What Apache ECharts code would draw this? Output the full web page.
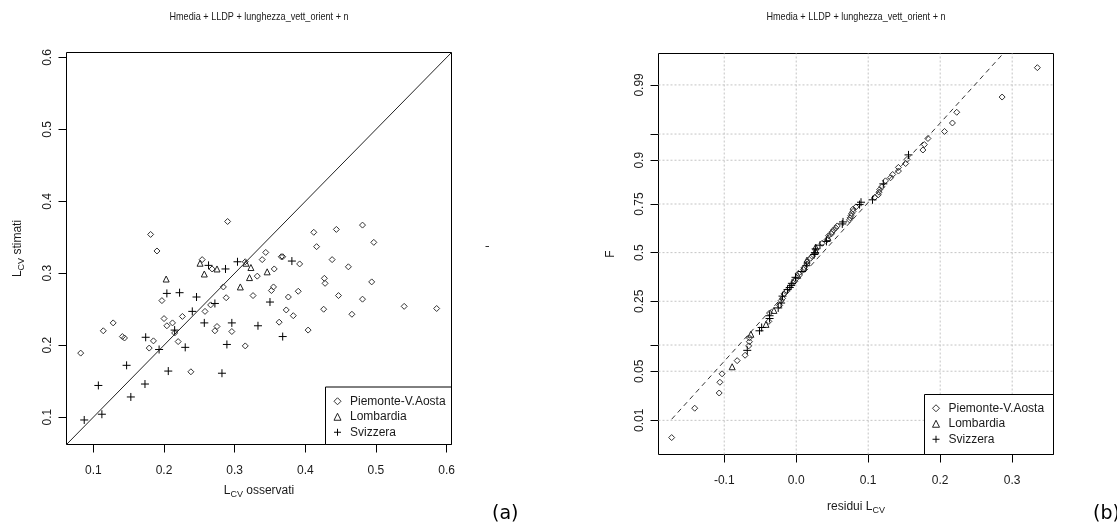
<!DOCTYPE html>
<html>
<head>
<meta charset="utf-8">
<script src="https://cdn.jsdelivr.net/npm/echarts@6/dist/echarts.min.js"></script>
<style>
  html, body { margin: 0; padding: 0; background: #fff; }
  #chart { width: 1117px; height: 527px; }
</style>
</head>
<body>
<div id="chart"></div>
<script>
// ---- data: observed and estimated L-CV per station, by region ----
const regionNames = ['Piemonte-V.Aosta', 'Lombardia', 'Svizzera'];

const piemonteObs = [0.290, 0.181, 0.190, 0.254, 0.268, 0.315, 0.332, 0.284, 0.288, 0.326,
  0.197, 0.266, 0.258, 0.226, 0.200, 0.128, 0.212, 0.204, 0.275, 0.215,
  0.114, 0.272, 0.296, 0.141, 0.144, 0.185, 0.179, 0.220, 0.315, 0.082,
  0.238, 0.412, 0.444, 0.481, 0.497, 0.416, 0.344, 0.339, 0.366, 0.368,
  0.438, 0.392, 0.461, 0.356, 0.427, 0.428, 0.494, 0.355, 0.352, 0.390,
  0.376, 0.447, 0.481, 0.373, 0.383, 0.426, 0.466, 0.540, 0.586, 0.363, 0.404];
const piemonteEst = [0.372, 0.354, 0.331, 0.319, 0.306, 0.316, 0.296, 0.281, 0.266, 0.269,
  0.262, 0.256, 0.247, 0.240, 0.237, 0.231, 0.231, 0.227, 0.226, 0.217,
  0.220, 0.220, 0.219, 0.212, 0.210, 0.206, 0.196, 0.205, 0.199, 0.189,
  0.163, 0.357, 0.361, 0.367, 0.343, 0.337, 0.329, 0.319, 0.323, 0.323,
  0.319, 0.313, 0.309, 0.306, 0.293, 0.286, 0.288, 0.281, 0.276, 0.275,
  0.267, 0.269, 0.264, 0.249, 0.241, 0.250, 0.243, 0.254, 0.251, 0.232, 0.221];

const lombardiaObs = [0.251, 0.275, 0.316, 0.323, 0.257, 0.203, 0.321, 0.308, 0.346];
const lombardiaEst = [0.314, 0.306, 0.314, 0.308, 0.299, 0.292, 0.294, 0.281, 0.302];

const svizzeraObs = [0.263, 0.287, 0.304, 0.381, 0.204, 0.222, 0.246, 0.272, 0.240, 0.257,
  0.296, 0.333, 0.215, 0.174, 0.193, 0.230, 0.289, 0.147, 0.206, 0.282,
  0.107, 0.173, 0.153, 0.112, 0.087, 0.350, 0.368];
const svizzeraEst = [0.311, 0.306, 0.316, 0.317, 0.272, 0.273, 0.267, 0.258, 0.247, 0.231,
  0.231, 0.227, 0.221, 0.211, 0.194, 0.197, 0.201, 0.172, 0.164, 0.161,
  0.144, 0.146, 0.128, 0.104, 0.096, 0.260, 0.212];

// ---- axis ticks ----
const scatterTicks = [0.1, 0.2, 0.3, 0.4, 0.5, 0.6];
const residTicks = [-0.1, 0.0, 0.1, 0.2, 0.3];
const residTickLabels = ['-0.1', '0.0', '0.1', '0.2', '0.3'];
const probTicks = [0.01, 0.05, 0.1, 0.25, 0.5, 0.75, 0.9, 0.95, 0.99];
const probTickLabels = ['0.01', '0.05', '', '0.25', '0.5', '0.75', '0.9', '', '0.99'];

// fitted normal drawn as the dashed reference line on the probability plot
const normalFit = { mean: 0.0368, sd: 0.0908 };

// ---- helpers ----
// inverse standard normal CDF (Acklam's rational approximation)
function qnorm(p) {
  const a = [-3.969683028665376e+01, 2.209460984245205e+02, -2.759285104469687e+02,
    1.383577518672690e+02, -3.066479806614716e+01, 2.506628277459239e+00];
  const b = [-5.447609879822406e+01, 1.615858368580409e+02, -1.556989798598866e+02,
    6.680131188771972e+01, -1.328068155288572e+01];
  const c = [-7.784894002430293e-03, -3.223964580411365e-01, -2.400758277161838e+00,
    -2.549732539343734e+00, 4.374664141464968e+00, 2.938163982698783e+00];
  const d = [7.784695709041462e-03, 3.224671290700398e-01, 2.445134137142996e+00,
    3.754408661907416e+00];
  const pl = 0.02425, ph = 1 - pl;
  if (p < pl) {
    const q = Math.sqrt(-2 * Math.log(p));
    return (((((c[0]*q+c[1])*q+c[2])*q+c[3])*q+c[4])*q+c[5]) / ((((d[0]*q+d[1])*q+d[2])*q+d[3])*q+1);
  }
  if (p <= ph) {
    const q = p - 0.5, r = q * q;
    return (((((a[0]*r+a[1])*r+a[2])*r+a[3])*r+a[4])*r+a[5])*q / (((((b[0]*r+b[1])*r+b[2])*r+b[3])*r+b[4])*r+1);
  }
  const q = Math.sqrt(-2 * Math.log(1 - p));
  return -(((((c[0]*q+c[1])*q+c[2])*q+c[3])*q+c[4])*q+c[5]) / ((((d[0]*q+d[1])*q+d[2])*q+d[3])*q+1);
}
const zip = (xs, ys) => xs.map((x, i) => [x, ys[i]]);

const obsByRegion = [piemonteObs, lombardiaObs, svizzeraObs];
const estByRegion = [piemonteEst, lombardiaEst, svizzeraEst];

// residuals (observed - estimated), ranked over all stations for the normal plot
const allResid = [];
obsByRegion.forEach((obs, r) => obs.forEach((o, i) => allResid.push({ r, v: o - estByRegion[r][i] })));
allResid.sort((p, q) => p.v - q.v);
const nRes = allResid.length;
const probData = [[], [], []];
allResid.forEach((e, i) => probData[e.r].push([e.v, qnorm((i + 0.5) / nRes)]));

const residMin = allResid[0].v, residMax = allResid[nRes - 1].v;
const fitLine = [residMin, residMax].map(x => [x, (x - normalFit.mean) / normalFit.sd]);

const probZ = probTicks.map(qnorm);
const probLabelZ = probZ.filter((z, i) => probTickLabels[i] !== '');

// ---- styling ----
const FONT = 'Liberation Sans, Arial, sans-serif';
const TXT = '#1a1a1a';
const symbols = ['diamond', 'triangle', 'path://M0,5L10,5M5,0L5,10'];
const symbolSizes = [6, 6, 8];
const symbolColors = ['#333', '#222', '#000'];

const lim = [0.0619, 0.607];
const residLim = [-0.1913, 0.3574];
const zLim = [-2.80, 2.762];

const richName = {
  m: { fontSize: 12, fontFamily: FONT, color: TXT, verticalAlign: 'top', lineHeight: 13 },
  s: { fontSize: 9, fontFamily: FONT, color: TXT, verticalAlign: 'top', lineHeight: 9, padding: [6, 0, 0, 0] }
};
const tickLabel = { fontSize: 12, fontFamily: FONT, color: TXT };

function valueAxis(gi, min, max, ticks, extra) {
  return Object.assign({
    type: 'value', gridIndex: gi, min, max,
    axisLine: { show: false, onZero: false },
    axisTick: { show: true, customValues: ticks, length: 8, lineStyle: { color: '#000', width: 1 } },
    axisLabel: Object.assign({ customValues: ticks }, tickLabel),
    splitLine: { show: false },
    nameLocation: 'middle',
    nameTextStyle: { rich: richName }
  }, extra);
}

const series = [];
regionNames.forEach((name, r) => {
  series.push({
    name, type: 'scatter', xAxisIndex: 0, yAxisIndex: 0,
    symbol: symbols[r], symbolSize: symbolSizes[r], symbolKeepAspect: true, z: 5,
    itemStyle: { color: 'none', borderColor: symbolColors[r], borderWidth: 1, opacity: 1 },
    emphasis: { disabled: true },
    data: zip(obsByRegion[r], estByRegion[r])
  });
});
series.push({
  type: 'line', xAxisIndex: 0, yAxisIndex: 0, symbol: 'none', silent: true, z: 4, clip: true,
  lineStyle: { color: '#222', width: 1 },
  data: [[lim[0], lim[0]], [lim[1], lim[1]]]
});
// dotted reference grid of the probability plot
const gridSegs = probZ.map(z => [[residLim[0], z], [residLim[1], z]])
  .concat(residTicks.map(x => [[x, zLim[0]], [x, zLim[1]]]));
gridSegs.forEach(seg => {
  series.push({
    type: 'line', xAxisIndex: 1, yAxisIndex: 1, symbol: 'none', silent: true, z: 1,
    lineStyle: { color: '#c4c4c4', width: 1, type: [2, 2] },
    data: seg
  });
});
series.push({
  type: 'line', xAxisIndex: 1, yAxisIndex: 1, symbol: 'none', silent: true, z: 4, clip: true,
  lineStyle: { color: '#333', width: 1, type: [5, 4] },
  data: fitLine
});
regionNames.forEach((name, r) => {
  series.push({
    name, type: 'scatter', xAxisIndex: 1, yAxisIndex: 1,
    symbol: symbols[r], symbolSize: symbolSizes[r], symbolKeepAspect: true, z: 5,
    itemStyle: { color: 'none', borderColor: symbolColors[r], borderWidth: 1, opacity: 1 },
    emphasis: { disabled: true },
    data: probData[r]
  });
});

const legendBase = {
  data: regionNames, orient: 'vertical', selectedMode: false, z: 30,
  itemWidth: 7, itemHeight: 7, itemGap: 0, padding: 0, symbolKeepAspect: true,
  itemStyle: { borderWidth: 1 },
  textStyle: { fontSize: 12, fontFamily: FONT, color: TXT, lineHeight: 15.5, padding: [0, 0, 0, 4] }
};

// panel headings: a narrow face, drawn as condensed text
const titleText = 'Hmedia + LLDP + lunghezza_vett_orient + n';
const titleCenters = [259, 856];

const option = {
  animation: false,
  backgroundColor: '#fff',
  grid: [
    { left: 66.5, top: 52.5, width: 385, height: 392, show: true, borderColor: '#000', borderWidth: 1, backgroundColor: 'transparent' },
    { left: 658.5, top: 53.5, width: 395, height: 401, show: true, borderColor: '#000', borderWidth: 1, backgroundColor: 'transparent' }
  ],
  xAxis: [
    valueAxis(0, lim[0], lim[1], scatterTicks, {
      name: '{m|L}{s|CV}{m| osservati}', nameGap: 40,
      axisLabel: Object.assign({ customValues: scatterTicks, margin: 20, formatter: v => v.toFixed(1) }, tickLabel)
    }),
    valueAxis(1, residLim[0], residLim[1], residTicks, {
      name: '{m|residui L}{s|CV}', nameGap: 46,
      axisLabel: Object.assign({ customValues: residTicks, margin: 20,
        formatter: v => residTickLabels[residTicks.findIndex(t => Math.abs(t - v) < 1e-9)] }, tickLabel)
    })
  ],
  yAxis: [
    valueAxis(0, lim[0], lim[1], scatterTicks, {
      name: '{m|L}{s|CV}{m| stimati}', nameGap: 42,
      axisLabel: Object.assign({ customValues: scatterTicks, rotate: 90, margin: 13, formatter: v => v.toFixed(1) }, tickLabel)
    }),
    valueAxis(1, zLim[0], zLim[1], probZ, {
      name: '{m|F}', nameGap: 41,
      axisLabel: Object.assign({ customValues: probLabelZ, rotate: 90, margin: 13,
        formatter: v => probTickLabels[probZ.findIndex(z => Math.abs(z - v) < 1e-9)] }, tickLabel)
    })
  ],
  legend: [
    Object.assign({}, legendBase, { left: 331.5, top: 393.5 }),
    Object.assign({}, legendBase, { left: 930, top: 400.5 })
  ],
  graphic: titleCenters.map(cx => ({
    type: 'text', z: 20, x: cx, y: 17, scaleX: 0.79,
    style: { text: titleText, fontSize: 11.5, fontFamily: FONT, fill: TXT,
      align: 'center', verticalAlign: 'middle' }
  })).concat([
    { type: 'rect', z: 20, shape: { x: 325.5, y: 387, width: 126, height: 57.5 },
      style: { fill: '#fff', stroke: '#000', lineWidth: 1 } },
    { type: 'rect', z: 20, shape: { x: 924.5, y: 394.5, width: 129, height: 60 },
      style: { fill: '#fff', stroke: '#000', lineWidth: 1 } },
    { type: 'line', z: 20, shape: { x1: 485.5, y1: 246.5, x2: 489, y2: 246.5 },
      style: { stroke: '#333', lineWidth: 1 } },
    { type: 'text', z: 20, left: 492, top: 505,
      style: { text: '(a)', fontSize: 19, fontFamily: 'DejaVu Sans, Verdana, sans-serif', fill: '#000' } },
    { type: 'text', z: 20, left: 1093, top: 505,
      style: { text: '(b)', fontSize: 19, fontFamily: 'DejaVu Sans, Verdana, sans-serif', fill: '#000' } }
  ]),
  series
};

const chart = echarts.init(document.getElementById('chart'), null, { renderer: 'canvas' });
chart.setOption(option);
</script>
</body>
</html>
